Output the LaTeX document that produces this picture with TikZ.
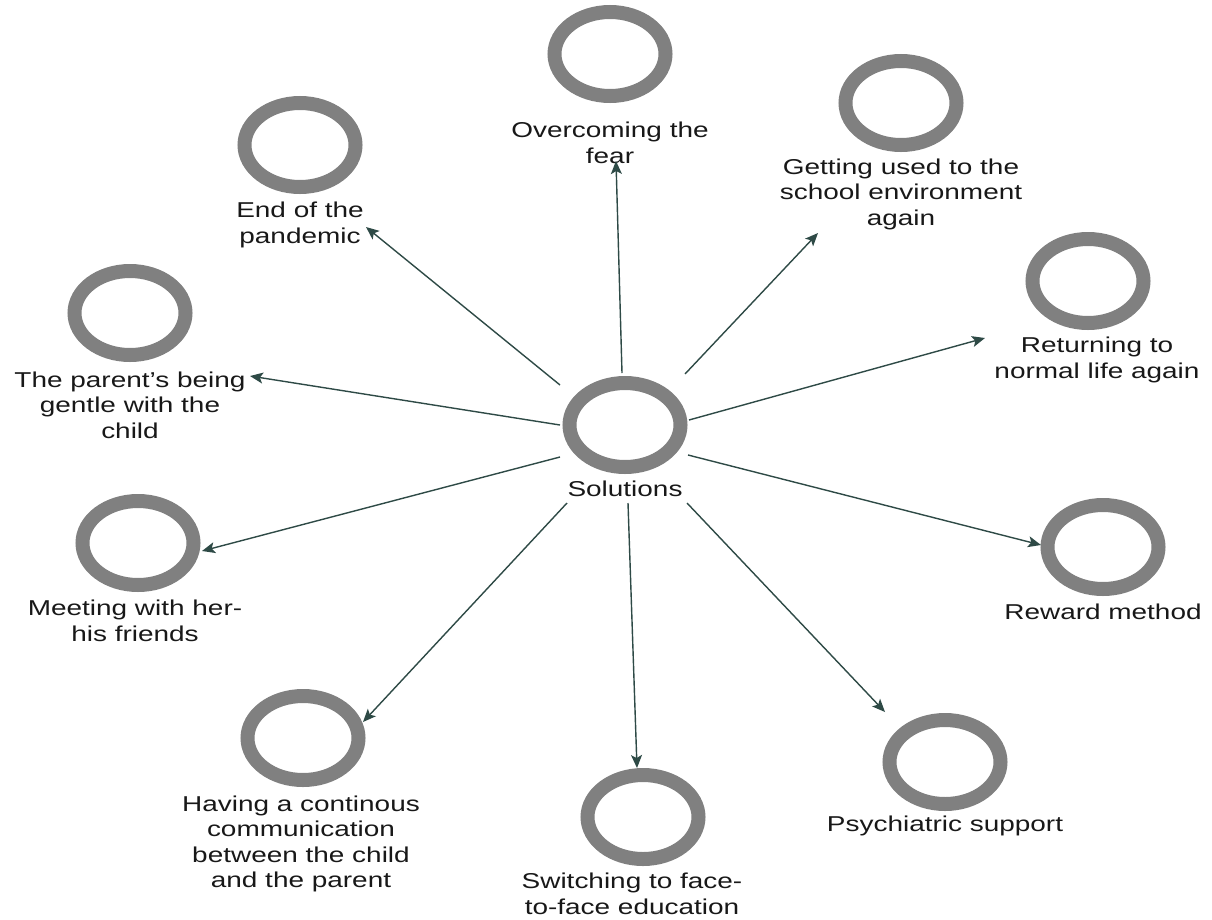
\documentclass[tikz,border=0pt]{standalone}
\usepackage{fontspec}
\setmainfont{Liberation Sans}[FakeStretch=1.3]
\usetikzlibrary{shapes.geometric,arrows.meta,calc}

\definecolor{ringc}{RGB}{128,128,128}
\definecolor{arrowc}{RGB}{46,74,70}
\definecolor{textc}{RGB}{24,24,24}

\begin{document}
\begin{tikzpicture}[x=1pt,y=-1pt,
  ring/.style={draw=ringc, line width=14pt, ellipse, minimum width=111pt,
    minimum height=84pt, inner sep=0pt},
  lbl/.style={text=textc, align=center, inner sep=0pt,
    font=\fontsize{21.5}{25.5}\selectfont},
  arr/.style={draw=arrowc, line width=1.4pt,
    -{Stealth[length=13pt,width=11pt,inset=3pt]}}]
\useasboundingbox (0,0) rectangle (1212,919);

% hub
\node[ring] (h) at (625,425) {};
\node[lbl] (hl) at (625,489) {Solutions};

% outer ring of solutions
\node[ring] (c1) at (610,54) {};
\node[lbl] (l1) at (610,143) {Overcoming the\\fear};

\node[ring] (c2) at (300,145) {};
\node[lbl] (l2) at (300,225) {End of the\\pandemic};

\node[ring] (c3) at (901,103) {};
\node[lbl] (l3) at (901,194) {Getting used to the\\school environment\\again};

\node[ring] (c4) at (1088,281) {};
\node[lbl] (l4) at (1097,360) {Returning to\\normal life again};

\node[ring] (c5) at (130,313) {};
\node[lbl] (l5) at (130,405) {The parent's being\\gentle with the\\child};

\node[ring] (c6) at (138,543) {};
\node[lbl] (l6) at (135,621) {Meeting with her-\\his friends};

\node[ring] (c7) at (1103,547) {};
\node[lbl] (l7) at (1103,612) {Reward method};

\node[ring] (c8) at (303,738) {};
\node[lbl] (l8) at (301,844) {Having a continous\\communication\\between the child\\and the parent};

\node[ring] (c9) at (643,817) {};
\node[lbl] (l9) at (632,894) {Switching to face-\\to-face education};

\node[ring] (c10) at (945,762) {};
\node[lbl] (l10) at (945,826) {Psychiatric support};

% connectors
\draw[arr] ($(h)+(-3,-52)$) -- ($(c1)+(6,107)$);
\draw[arr] ($(h)+(-65,-40)$) -- ($(c2)+(66,82)$);
\draw[arr] ($(h)+(60,-51)$) -- ($(c3)+(-83,130)$);
\draw[arr] ($(h)+(64,-5)$) -- ($(c4)+(-103,57)$);
\draw[arr] ($(h)+(-65,0)$) -- ($(c5)+(120,63)$);
\draw[arr] ($(h)+(-65,32)$) -- ($(c6)+(64,8)$);
\draw[arr] ($(h)+(63,30)$) -- ($(c7)+(-62,-2)$);
\draw[arr] ($(h)+(-58,78)$) -- ($(c8)+(60,-16)$);
\draw[arr] ($(h)+(3,78)$) -- ($(c9)+(-6,-49)$);
\draw[arr] ($(h)+(62,78)$) -- ($(c10)+(-60,-50)$);
\end{tikzpicture}
\end{document}
